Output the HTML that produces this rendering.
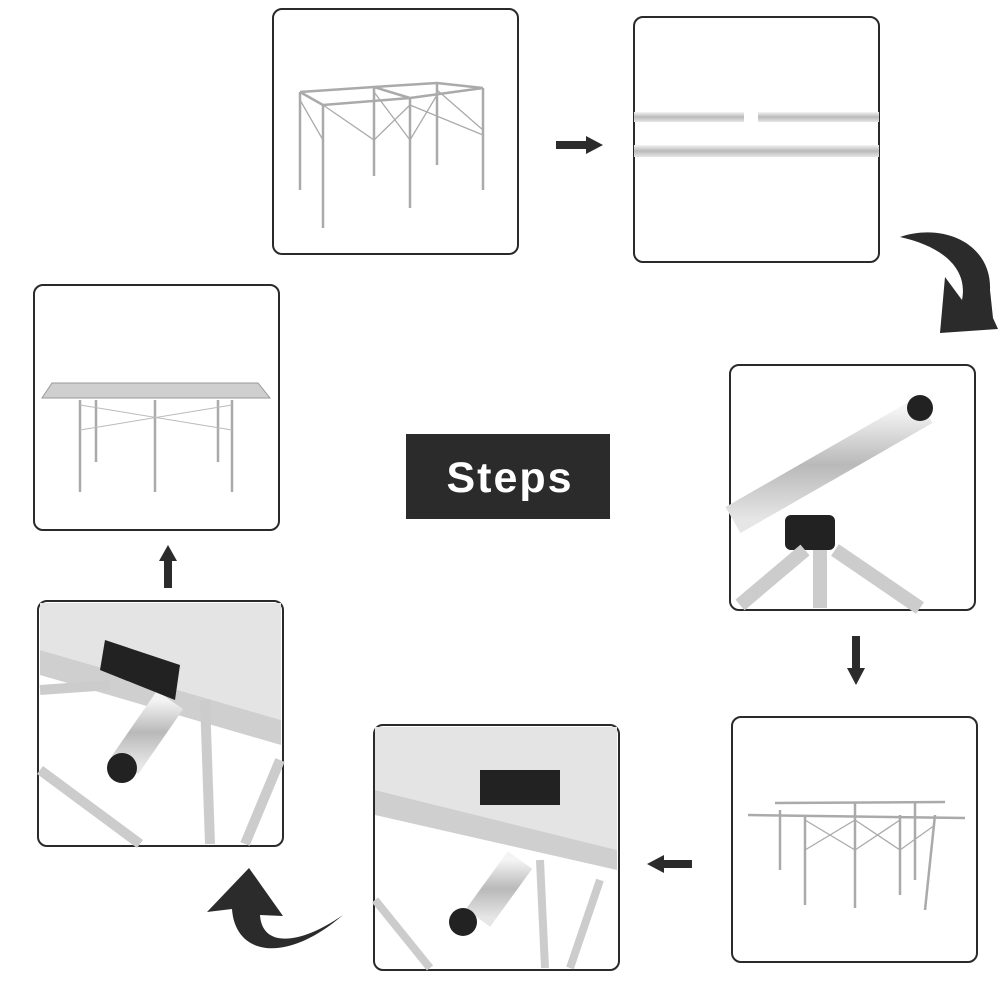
<!DOCTYPE html>
<html><head><meta charset="utf-8"><style>
body{margin:0;background:#fff}
svg{display:block}
</style></head><body>
<svg width="1000" height="1000" viewBox="0 0 1000 1000" xmlns="http://www.w3.org/2000/svg">
<defs>
<linearGradient id="tube" x1="0" y1="0" x2="0" y2="1"><stop offset="0" stop-color="#f4f4f4"/><stop offset=".5" stop-color="#b9b9b9"/><stop offset="1" stop-color="#e6e6e6"/></linearGradient>
</defs>
<g fill="#fff" stroke="#2a2a2a" stroke-width="2">
<rect x="273" y="9" width="245" height="245" rx="9"/>
<rect x="634" y="17" width="245" height="245" rx="9"/>
<rect x="34" y="285" width="245" height="245" rx="9"/>
<rect x="730" y="365" width="245" height="245" rx="9"/>
<rect x="38" y="601" width="245" height="245" rx="9"/>
<rect x="374" y="725" width="245" height="245" rx="9"/>
<rect x="732" y="717" width="245" height="245" rx="9"/>
</g>
<g stroke="#aaa" stroke-width="2.5" fill="none">
<line x1="300" y1="92" x2="300" y2="190"/><line x1="323" y1="105" x2="323" y2="228"/>
<line x1="374" y1="87" x2="374" y2="176"/><line x1="410" y1="98" x2="410" y2="208"/>
<line x1="437" y1="83" x2="437" y2="165"/><line x1="483" y1="88" x2="483" y2="190"/>
<path d="M300,92 L374,87 L437,83 L483,88 M323,105 L410,98 L483,88 M300,92 L323,105 M374,87 L410,98"/>
<path d="M300,100 L323,140 M323,105 L374,140 L410,105 M374,92 L410,140 M410,105 L483,135 M437,90 L483,130 M410,140 L437,95" stroke-width="1.3"/>
</g>
<rect x="634" y="112" width="110" height="10" fill="url(#tube)"/>
<rect x="758" y="112" width="121" height="10" fill="url(#tube)"/>
<rect x="634" y="145" width="245" height="12" fill="url(#tube)"/>
<polygon points="52,383 258,383 270,398 42,398" fill="#cfcfcf" stroke="#999"/>
<g stroke="#aaa" stroke-width="2.5"><line x1="80" y1="400" x2="80" y2="492"/><line x1="155" y1="400" x2="155" y2="492"/><line x1="232" y1="400" x2="232" y2="492"/><line x1="96" y1="400" x2="96" y2="462"/><line x1="218" y1="400" x2="218" y2="462"/></g>
<path d="M80,405 L232,430 M80,430 L232,405" stroke="#bbb"/>
<line x1="733" y1="520" x2="925" y2="410" stroke="url(#tube)" stroke-width="30"/>
<circle cx="920" cy="408" r="13" fill="#222"/>
<rect x="785" y="515" width="50" height="35" rx="6" fill="#222"/>
<path d="M740,605 L805,550 M820,550 L820,608 M835,550 L920,608" stroke="#ccc" stroke-width="14"/>
<g stroke="#aaa" stroke-width="2.5" fill="none">
<line x1="748" y1="815" x2="965" y2="818"/><line x1="775" y1="803" x2="945" y2="802"/>
<line x1="780" y1="810" x2="780" y2="870"/><line x1="805" y1="815" x2="805" y2="905"/>
<line x1="855" y1="802" x2="855" y2="908"/><line x1="900" y1="815" x2="900" y2="895"/>
<line x1="935" y1="815" x2="925" y2="910"/><line x1="915" y1="802" x2="915" y2="880"/>
<path d="M805,820 L855,850 L900,820 M805,850 L855,820 L900,850 L935,825" stroke-width="1.3"/>
</g>
<polygon points="375,727 617,727 617,850 375,790" fill="#e4e4e4"/>
<polygon points="375,790 617,850 617,870 375,815" fill="#cfcfcf"/>
<line x1="478" y1="918" x2="520" y2="860" stroke="url(#tube)" stroke-width="30"/>
<circle cx="463" cy="922" r="14" fill="#222"/>
<rect x="480" y="770" width="80" height="35" fill="#222"/>
<path d="M540,860 L545,968 M375,900 L430,968 M600,880 L570,968" stroke="#ccc" stroke-width="8"/>
<polygon points="40,603 281,603 281,720 40,650" fill="#e4e4e4"/>
<polygon points="40,650 281,720 281,745 40,675" fill="#cfcfcf"/>
<line x1="125" y1="765" x2="170" y2="700" stroke="url(#tube)" stroke-width="32"/>
<circle cx="122" cy="768" r="15" fill="#222"/>
<polygon points="105,640 180,665 175,700 100,670" fill="#222"/>
<path d="M205,700 L210,844 M40,770 L140,844 M280,760 L245,844 M40,690 L110,685" stroke="#ccc" stroke-width="10"/>
<rect x="406" y="434" width="204" height="85" fill="#2b2b2b"/>
<text x="510" y="492" text-anchor="middle" font-family="Liberation Sans, sans-serif" font-size="43" font-weight="bold" fill="#fff" letter-spacing="2">Steps</text>
<g fill="#2b2b2b">
<polygon points="556,141 586,141 586,136 603,145 586,154 586,149 556,149"/>
<polygon points="852,636 860,636 860,668 865,668 856,685 847,668 852,668"/>
<polygon points="692,860 664,860 664,855 647,864 664,873 664,868 692,868"/>
<polygon points="164,588 172,588 172,561 177,561 168,545 159,561 164,561"/>
<path d="M900,237 C945,222 992,245 990,290 L993,318 L998,329 L940,333 L945,277 L962,300 C968,270 945,247 900,237 Z"/>
<path d="M249,868 L207,912 L232,909 C235,955 285,965 343,915 C300,945 262,948 260,915 L283,916 Z"/>
</g>
</svg>
</body></html>
